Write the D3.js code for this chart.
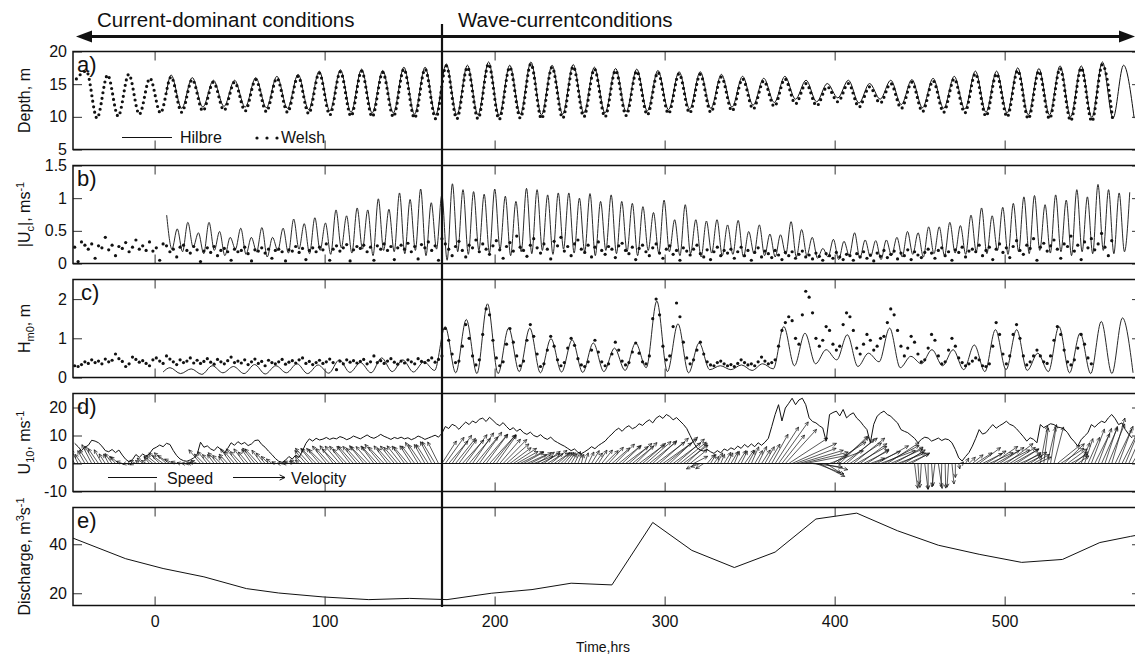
<!DOCTYPE html>
<html>
<head>
<meta charset="utf-8">
<script src="https://cdn.jsdelivr.net/npm/d3@7"></script>
<style>
  body { margin: 0; background: #fff; }
  text { font-family: "Liberation Sans", Arial, Helvetica, sans-serif; fill: #111; }
</style>
</head>
<body>
<div id="chart"></div>
<script>
// ---------- datos ----------
const xTicks = [0, 100, 200, 300, 400, 500];

// a) profundidad: picos y valles de cada marea (periodo semidiurno)
const tideT0 = 9.7, tidePeriod = 12.45;
const hilbreStart = [6.8, 13.5];
const hilbreHigh = [16.4, 16.0, 15.6, 15.6, 16.0, 16.2, 16.5, 17.0, 17.2, 17.3,
  17.1, 17.6, 17.6, 18.1, 17.9, 18.4, 17.9, 18.4, 17.9, 18.0,
  17.6, 17.4, 17.3, 17.1, 16.9, 16.9, 16.5, 16.2, 15.9, 16.2,
  15.6, 15.1, 15.6, 15.1, 15.6, 15.7, 15.9, 16.2, 17.0, 17.0,
  17.5, 17.4, 17.8, 17.8, 18.4, 17.9];
const hilbreLow = [11.3, 11.5, 11.6, 11.5, 11.4, 11.3, 11.1, 10.9, 10.7, 10.6,
  10.6, 10.4, 10.3, 10.3, 10.3, 10.2, 10.4, 10.3, 10.4, 10.6,
  10.6, 10.8, 10.9, 11.1, 11.2, 11.3, 11.5, 11.8, 12.2, 12.7,
  12.3, 12.9, 12.1, 12.7, 11.9, 11.4, 11.3, 11.2, 10.7, 10.6,
  10.3, 10.3, 10.0, 9.9, 9.8, 9.8];
const welshStart = [-46, 15.8];
const welshFirstTide = -4;
const welshHigh = [17.0, 16.4, 16.5, 15.9,
  16.1, 15.7, 15.3, 15.3, 15.7, 15.9, 16.2, 16.7, 16.9, 17.0,
  16.8, 17.3, 17.3, 17.8, 17.6, 18.1, 17.6, 18.1, 17.6, 17.7,
  17.3, 17.1, 17.0, 16.8, 16.6, 16.5, 16.1, 15.8, 15.5, 15.8,
  15.1, 14.6, 15.1, 14.6, 15.1, 15.3, 15.5, 15.8, 16.6, 16.6,
  17.1, 17.0, 17.4, 17.5, 18.0];
const welshLow = [9.8, 10.1, 10.4, 10.6,
  10.7, 10.9, 11.0, 10.9, 10.8, 10.7, 10.5, 10.3, 10.1, 10.0,
  10.0, 9.8, 9.7, 9.7, 9.7, 9.6, 9.8, 9.7, 9.8, 10.0,
  10.0, 10.2, 10.3, 10.5, 10.6, 10.7, 10.9, 11.2, 11.6, 12.0,
  11.7, 12.3, 11.5, 12.1, 11.3, 10.8, 10.7, 10.6, 10.1, 10.0,
  9.7, 9.7, 9.4, 9.3, 9.2];

// b) |Uc|: picos de flujo/reflujo (cada media marea) y valles entre ellos
const currT0 = 7.1, currStep = 6.225;
const currPeak = [0.74, 0.53, 0.63, 0.47, 0.63, 0.49, 0.40, 0.54, 0.40, 0.55, 0.40, 0.54, 0.68, 0.61, 0.70, 0.62, 0.82, 0.73, 0.85, 0.82, 0.99, 0.83,
  1.08, 0.98, 1.14, 0.93, 1.05, 1.22, 1.13, 1.10, 1.06, 1.14, 1.03, 0.95, 1.15, 1.13, 1.05, 1.08, 1.08, 1.00, 1.07, 0.95,
  1.05, 0.95, 0.92, 0.87, 0.78, 0.97, 0.67, 0.90, 0.67, 0.65, 0.67, 0.59, 0.66, 0.49, 0.59, 0.45, 0.44,
  0.64, 0.52, 0.40, 0.23, 0.37, 0.34, 0.47, 0.36, 0.35, 0.36, 0.40, 0.49, 0.47, 0.56, 0.56, 0.63, 0.58, 0.74, 0.85, 0.73,
  0.86, 0.92, 1.02, 1.04, 0.90, 1.05, 0.97, 1.13, 1.02, 1.21, 1.13, 1.08, 1.09];
const currLow = [0.22, 0.18, 0.25, 0.15, 0.20, 0.12, 0.22, 0.14, 0.18, 0.10, 0.20, 0.16, 0.22, 0.15, 0.20, 0.14, 0.24, 0.16, 0.22, 0.12, 0.20, 0.18,
  0.15, 0.20, 0.12, 0.22, 0.05, 0.18, 0.14, 0.20, 0.16, 0.22, 0.12, 0.18, 0.15, 0.20, 0.14, 0.22, 0.16, 0.18, 0.12, 0.20,
  0.15, 0.18, 0.12, 0.20, 0.16, 0.18, 0.12, 0.15, 0.10, 0.16, 0.12, 0.14, 0.10, 0.15, 0.12, 0.10, 0.14,
  0.10, 0.12, 0.08, 0.10, 0.06, 0.12, 0.08, 0.10, 0.06, 0.12, 0.10, 0.14, 0.10, 0.15, 0.12, 0.16, 0.14, 0.18, 0.15, 0.20,
  0.14, 0.18, 0.15, 0.20, 0.16, 0.18, 0.12, 0.18, 0.15, 0.20, 0.15, 0.18];

// series muestreadas cada 2 h desde -47 h
const denseT0 = -47, denseStep = 2;
const welshCurr = [
  0.25, 0.03, 0.33, 0.28, 0.22, 0.30, 0.08, 0.27, 0.24, 0.40, 0.21, 0.28,
  0.12, 0.26, 0.23, 0.32, 0.18, 0.25, 0.36, 0.22, 0.27, 0.20, 0.33, 0.19,
  0.24, 0.05, 0.30, 0.27, 0.18, 0.22, 0.10, 0.25, 0.28, 0.20, 0.16, 0.26,
  0.21, 0.03, 0.19, 0.24, 0.17, 0.26, 0.12, 0.20, 0.23, 0.18, 0.05, 0.22,
  0.18, 0.20, 0.25, 0.15, 0.04, 0.21, 0.19, 0.24, 0.16, 0.22, 0.08, 0.20,
  0.22, 0.18, 0.04, 0.21, 0.19, 0.26, 0.17, 0.23, 0.06, 0.20, 0.24, 0.18,
  0.25, 0.21, 0.30, 0.05, 0.22, 0.27, 0.19, 0.24, 0.29, 0.04, 0.21, 0.26,
  0.23, 0.28, 0.18, 0.25, 0.05, 0.27, 0.22, 0.30, 0.20, 0.26, 0.06, 0.24,
  0.28, 0.22, 0.31, 0.18, 0.26, 0.07, 0.29, 0.24, 0.33, 0.20, 0.27, 0.05,
  0.38, 0.30, 0.22, 0.12, 0.26, 0.34, 0.20, 0.10, 0.28, 0.24, 0.36, 0.18,
  0.30, 0.22, 0.14, 0.27, 0.35, 0.21, 0.08, 0.26, 0.32, 0.19, 0.42, 0.25,
  0.20, 0.11, 0.28, 0.38, 0.24, 0.16, 0.30, 0.22, 0.07, 0.34, 0.27, 0.40,
  0.19, 0.26, 0.12, 0.30, 0.36, 0.22, 0.17, 0.28, 0.10, 0.25, 0.33, 0.20,
  0.14, 0.26, 0.22, 0.09, 0.27, 0.31, 0.20, 0.15, 0.25, 0.06, 0.23, 0.28,
  0.18, 0.12, 0.24, 0.30, 0.16, 0.08, 0.22, 0.27, 0.14, 0.20, 0.05, 0.24,
  0.19, 0.13, 0.22, 0.28, 0.15, 0.10, 0.21, 0.06, 0.18, 0.25, 0.12, 0.20,
  0.16, 0.22, 0.08, 0.18, 0.25, 0.12, 0.20, 0.05, 0.17, 0.24, 0.10, 0.19,
  0.15, 0.09, 0.20, 0.13, 0.06, 0.17, 0.12, 0.18, 0.08, 0.14, 0.19, 0.10,
  0.13, 0.07, 0.16, 0.11, 0.05, 0.15, 0.12, 0.08, 0.17, 0.10, 0.06, 0.14,
  0.12, 0.05, 0.15, 0.10, 0.18, 0.08, 0.13, 0.04, 0.16, 0.11, 0.20, 0.09,
  0.14, 0.19, 0.07, 0.16, 0.12, 0.21, 0.06, 0.18, 0.13, 0.09, 0.17, 0.22,
  0.16, 0.08, 0.20, 0.24, 0.12, 0.18, 0.05, 0.21, 0.17, 0.25, 0.10, 0.19,
  0.22, 0.18, 0.28, 0.12, 0.20, 0.25, 0.06, 0.22, 0.30, 0.17, 0.24, 0.09,
  0.26, 0.35, 0.20, 0.14, 0.28, 0.23, 0.38, 0.05, 0.25, 0.31, 0.19, 0.27,
  0.36, 0.22, 0.08, 0.30, 0.26, 0.42, 0.19, 0.28, 0.06, 0.33, 0.24, 0.38,
  0.21, 0.30, 0.46, 0.25, 0.12, 0.35];

// c) Hm0: linea Hilbre (pico y valle por marea) y puntos Welsh cada 2 h
const waveT0 = 170.9, waveFirstTide = -13;
const hilbreWaveStart = [5, 0.14];
const hilbreWavePeak = [0.25, 0.22, 0.30, 0.28, 0.33, 0.30, 0.35, 0.32, 0.45, 0.38, 0.50, 0.45, 0.40,
  1.30, 1.48, 1.88, 1.26, 1.26, 0.99, 0.96, 0.88, 0.75, 0.88, 1.95, 1.37, 0.88,
  0.30, 0.32, 0.35,
  1.30, 1.13, 0.71, 1.09, 0.62, 1.26, 0.54, 0.71, 0.71, 0.83, 1.22, 1.22, 0.62, 1.30, 1.13, 1.43, 1.52];
const hilbreWaveLow = [0.10, 0.08, 0.12, 0.10, 0.09, 0.12, 0.10, 0.11, 0.13, 0.12, 0.15, 0.14, 0.18,
  0.12, 0.10, 0.10, 0.15, 0.12, 0.14, 0.13, 0.15, 0.18, 0.25, 0.15, 0.12, 0.20,
  0.20, 0.18, 0.22,
  0.30, 0.35, 0.45, 0.28, 0.40, 0.25, 0.35, 0.30, 0.20, 0.15, 0.20, 0.18, 0.15, 0.12, 0.10, 0.10, 0.12];
const welshWave = [
  0.30, 0.28, 0.33, 0.40, 0.36, 0.45, 0.38, 0.42, 0.35, 0.47, 0.40, 0.44,
  0.60, 0.48, 0.41, 0.28, 0.35, 0.52, 0.46, 0.39, 0.43, 0.36, 0.30, 0.45,
  0.50, 0.42, 0.36, 0.55, 0.47, 0.40, 0.33, 0.45, 0.38, 0.42, 0.50, 0.37,
  0.44, 0.36, 0.41, 0.48, 0.39, 0.34, 0.46, 0.40, 0.35, 0.43, 0.52, 0.38,
  0.42, 0.37, 0.45, 0.33, 0.40, 0.47, 0.36, 0.41, 0.30, 0.44, 0.38, 0.35,
  0.40, 0.46, 0.34, 0.39, 0.43, 0.37, 0.45, 0.50, 0.36, 0.41, 0.33, 0.38,
  0.44, 0.36, 0.40, 0.47, 0.38, 0.20, 0.42, 0.35, 0.45, 0.39, 0.43, 0.37,
  0.41, 0.46, 0.35, 0.40, 0.55, 0.38, 0.43, 0.36, 0.42, 0.48, 0.39, 0.34,
  0.42, 0.37, 0.45, 0.40, 0.35, 0.48, 0.41, 0.38, 0.44, 0.50, 0.39, 0.46,
  0.55,
  1.25, 0.95, 0.60, 0.38, 0.42, 0.80,
  1.35, 1.00, 0.55, 0.32, 0.45, 1.10,
  1.75, 1.60, 0.95, 0.50, 0.30, 0.40, 0.85,
  1.25, 0.90, 0.55, 0.30, 0.42, 0.95,
  1.35, 1.05, 0.60, 0.28, 0.35, 0.70,
  1.05, 0.80, 0.45, 0.30, 0.38, 0.75,
  1.00, 0.82, 0.48, 0.32, 0.28, 0.40, 0.70,
  0.95, 0.65, 0.40, 0.30, 0.35, 0.60,
  0.90, 0.70, 0.42, 0.32, 0.38, 0.65,
  0.88, 0.62, 0.40, 0.35, 0.55, 1.50,
  2.00, 1.60, 0.80, 0.45, 0.55, 1.30,
  1.90, 1.55, 0.90, 0.50, 0.35, 0.45, 0.70,
  0.90, 0.60, 0.40, 0.32, 0.30, 0.38,
  0.42, 0.35, 0.30, 0.33, 0.28, 0.36,
  0.45, 0.38, 0.32, 0.35, 0.30, 0.40,
  0.52, 0.42, 0.35, 0.38, 0.45, 0.80, 1.20,
  1.40, 1.55, 1.45, 1.00, 0.85, 1.60,
  2.20, 2.05, 1.65, 1.00, 0.80, 0.95,
  1.30, 1.20, 0.85, 0.70, 0.80, 1.35,
  1.65, 1.55, 1.20, 0.75, 0.60, 0.85,
  1.10, 0.95, 0.70, 0.80, 1.00, 1.05, 1.40,
  1.75, 1.60, 1.20, 0.80, 0.55, 0.75,
  1.05, 0.90, 0.60, 0.40, 0.45, 0.75,
  1.10, 0.95, 0.55, 0.35, 0.40, 0.70,
  1.00, 0.80, 0.50, 0.38, 0.30, 0.35, 0.42,
  0.50, 0.45, 0.30, 0.28, 0.35, 0.80,
  1.40, 1.10, 0.60, 0.35, 0.55, 1.10,
  1.35, 1.00, 0.55, 0.32, 0.40, 0.55,
  0.70, 0.55, 0.40, 0.36, 0.55, 0.95,
  1.30, 1.10, 0.70, 0.40, 0.32, 0.45, 0.75,
  1.10, 0.85, 0.50, 0.35];

// d) viento: rapidez (m/s) y direccion del vector (grados, antihorario desde el este)
const windSpeed = [
  7.2, 6.0, 4.6, 5.8, 6.5, 8.3, 8.0, 7.4, 6.2, 4.6, 4.2, 5.0,
  3.9, 4.8, 3.0, 1.5, 0.6, 1.4, 3.2, 2.2, 3.4, 2.6, 3.5, 5.2,
  5.8, 6.6, 6.0, 7.2, 6.8, 4.6, 2.8, 1.6, 1.0, 0.8, 1.3, 2.0,
  3.2, 7.6, 5.8, 6.3, 5.2, 4.6, 6.0, 5.0, 3.8, 5.4, 7.4, 6.5,
  7.8, 6.9, 7.5, 6.4, 7.0, 8.2, 8.4, 6.8, 5.8, 4.4, 3.2, 1.8,
  0.8, 0.4, 1.2, 2.5, 1.6, 3.0, 2.2, 4.5, 7.2, 8.8, 8.0, 9.0,
  8.4, 8.7, 9.3, 8.6, 9.1, 8.8, 9.6, 9.2, 8.5, 9.0, 9.8, 9.3,
  8.8, 9.5, 10.2, 9.4, 9.0, 9.6, 10.4, 9.7, 9.2, 8.6, 9.3, 8.9,
  9.4, 8.8, 9.2, 8.5, 9.0, 9.8, 9.3, 8.6, 9.1, 9.6, 10.1, 9.4,
  10.8, 13.2, 12.5, 14.0, 13.4, 12.2, 13.6, 14.8, 13.9, 15.2, 14.5, 15.8,
  16.2, 15.0, 16.5, 15.4, 14.2, 13.5, 14.6, 13.2, 12.0, 12.8, 11.5, 12.3,
  11.0, 10.4, 11.2, 10.0, 9.5, 10.3, 9.2, 8.6, 9.4, 8.2, 7.5, 6.8,
  6.2, 5.4, 4.6, 5.2, 4.0, 3.5, 4.2, 5.0, 6.0, 5.3, 6.4, 7.2,
  8.0, 9.4, 10.5, 11.8, 12.6, 11.5, 12.8, 13.5, 12.4, 13.0, 14.2, 13.6,
  14.8, 15.6, 14.5, 16.2, 17.0, 16.1, 17.5, 16.8, 15.6, 16.4, 15.2, 14.0,
  12.5, 10.0, 7.5, 5.6, 4.8, 4.4, 5.0, 4.2, 3.6, 4.6, 3.8, 5.2,
  4.6, 5.6, 5.0, 6.2, 5.4, 6.8, 5.8, 7.0, 6.0, 7.4, 6.5, 7.6,
  9.0, 13.2, 17.5, 21.0, 15.2, 19.8, 21.5, 23.3, 21.0, 22.7, 23.3, 21.0,
  16.3, 15.0, 14.5, 13.5, 12.7, 8.0, 17.5, 18.2, 18.7, 17.0, 19.3, 16.3,
  17.4, 18.1, 16.2, 15.1, 13.5, 12.1, 7.4, 14.0, 16.9, 18.0, 18.7, 17.5,
  16.9, 15.6, 14.5, 12.1, 11.5, 11.0, 10.0, 9.0, 7.4, 8.6, 9.4, 9.1,
  8.0, 8.5, 9.1, 8.2, 8.8, 8.5, 7.4, 5.0, 2.0, 0.9, 2.5, 3.9,
  6.2, 9.0, 12.1, 10.5, 11.0, 12.5, 13.9, 12.6, 13.5, 14.2, 15.1, 14.0,
  13.5, 12.4, 11.0, 9.6, 8.0, 9.2, 8.6, 7.4, 13.9, 12.8, 13.5, 14.2,
  13.9, 13.0, 12.8, 12.3, 11.0, 9.1, 7.8, 6.2, 8.5, 9.8, 11.0, 13.9,
  13.0, 14.2, 15.1, 14.6, 16.3, 17.5, 16.0, 13.9, 14.5, 12.1, 10.4, 9.1];
const windDir = [
  130, 125, 135, 128, 132, 126, 130, 134, 128, 132, 127, 135,
  140, 150, 165, 190, 220, 200, 160, 150, 145, 155, 140, 150,
  150, 145, 152, 148, 155, 160, 165, 170, 175, 185, 170, 165,
  160, 140, 145, 138, 142, 136, 140, 145, 138, 142, 135, 140,
  138, 142, 136, 140, 134, 138, 142, 136, 140, 145, 150, 160,
  175, 190, 170, 160, 150, 155, 148, 145, 140, 142, 138, 144,
  140, 145, 138, 142, 136, 144, 140, 138, 143, 137, 141, 139,
  142, 138, 144, 140, 136, 142, 139, 143, 137, 141, 138, 140,
  138, 135, 140, 132, 136, 130, 134, 128, 132, 126, 130, 125,
  48, 45, 40, 46, 42, 44, 38, 44, 40, 46, 41, 45,
  40, 44, 38, 42, 45, 40, 36, 32, 28, 25, 22, 20,
  22, 18, 20, 15, 25, 20, 28, 24, 30, 26, 32, 35,
  40, 45, 50, 55, 60, 70, 65, 55, 50, 45, 48, 42,
  35, 38, 32, 36, 30, 34, 28, 32, 30, 35, 28, 32,
  32, 30, 34, 28, 32, 27, 30, 34, 28, 32, 30, 28,
  35, 30, 20, 200, 195, 205, 40, 50, 45, 55, 60, 50,
  55, 50, 60, 48, 55, 45, 52, 58, 50, 55, 48, 52,
  50, 52, 48, 45, 42, 38, 25, 18, 15, 12, 10, 8,
  0, -5, -15, -20, -10, -25, 15, 25, 30, 35, 28, 32,
  25, 30, 22, 28, 20, 25, 15, 18, 22, 15, 20, 25,
  18, 22, 15, 20, 25, 18, 22, -80, -85, -95, -80, -90,
  -85, -100, -78, -92, -88, -95, -82, -90, -75, 40, 50, 35,
  30, 25, 28, 20, 24, 18, 26, 22, 25, 20, 28, 24,
  22, 25, 18, 24, 20, 26, 22, 18, 75, 80, 72, 78,
  70, 30, 25, 35, 28, 22, 32, 26, 60, 65, 58, 62,
  55, 62, 58, 65, 60, 68, 56, 62, 55, 60, 58, 50];

// e) caudal diario
const dischargeHours = [-48, -17, 5, 29, 54, 73, 99, 126, 150, 172, 198, 222, 245, 269, 293, 316, 341, 365, 389, 413, 437, 461, 485, 510, 534, 556, 574, 580];
const dischargeValues = [42.5, 34.1, 30.1, 26.7, 21.9, 20.1, 18.5, 17.4, 17.9, 17.4, 20.0, 21.5, 24.1, 23.4, 48.9, 37.5, 30.5, 36.8, 50.3, 52.7, 45.5, 39.6, 35.9, 32.6, 33.8, 40.7, 43.2, 44.0];

// ---------- dimensiones ----------
const ancho = 1135, alto = 659;
const izq = 73, der = 1141;
const panelTop = [51.5, 165.5, 279.5, 393.5, 507.5];
const panelAlto = 98;
const ink = "#111";

const svg = d3.select("#chart").append("svg")
  .attr("width", ancho)
  .attr("height", alto);
svg.append("rect").attr("width", ancho).attr("height", alto).attr("fill", "#fff");

const x = d3.scaleLinear().domain([-48, 580.2]).range([izq, der]);
const yEscala = (i, dom) => d3.scaleLinear().domain(dom).range([panelTop[i] + panelAlto, panelTop[i]]);
const yA = yEscala(0, [5, 20]);
const yB = yEscala(1, [0, 1.5]);
const yC = yEscala(2, [0, 2.5]);
const yD = yEscala(3, [-10, 25]);
const yE = yEscala(4, [15, 55]);

const defs = svg.append("defs");
panelTop.forEach((t, i) => {
  defs.append("clipPath").attr("id", "clip" + i)
    .append("rect").attr("x", izq).attr("y", t).attr("width", der - izq).attr("height", panelAlto);
});

// ---------- construir series ----------
function mareas(t0, paso, k0, altos, bajos, inicio) {
  const pts = inicio ? [inicio] : [];
  altos.forEach((h, i) => {
    const t = t0 + (k0 + i) * paso;
    pts.push([t, h]);
    if (bajos[i] != null) pts.push([t + paso / 2, bajos[i]]);
  });
  return pts;
}
const hilbrePts = mareas(tideT0, tidePeriod, 0, hilbreHigh, hilbreLow, hilbreStart);
const welshPts = mareas(tideT0, tidePeriod, welshFirstTide, welshHigh, welshLow, welshStart);
const currPts = mareas(currT0, currStep, 0, currPeak, currLow, null);
const wavePts = mareas(waveT0, tidePeriod, waveFirstTide, hilbreWavePeak, hilbreWaveLow, hilbreWaveStart);
const denso = arr => arr.map((v, i) => [denseT0 + i * denseStep, v]);

// ---------- a) ----------
const gA = svg.append("g").attr("clip-path", "url(#clip0)");
const lineaA = d3.line().x(d => x(d[0])).y(d => yA(d[1])).curve(d3.curveMonotoneX);
gA.append("path").attr("d", lineaA(welshPts))
  .attr("fill", "none").attr("stroke", ink).attr("stroke-width", 3.2)
  .attr("stroke-linecap", "round").attr("stroke-dasharray", "0 5.5");
gA.append("path").attr("d", lineaA(hilbrePts))
  .attr("fill", "none").attr("stroke", ink).attr("stroke-width", 1);

// ---------- b) ----------
const gB = svg.append("g").attr("clip-path", "url(#clip1)");
gB.append("path")
  .attr("d", d3.line().x(d => x(d[0])).y(d => yB(d[1])).curve(d3.curveMonotoneX)(currPts))
  .attr("fill", "none").attr("stroke", ink).attr("stroke-width", 0.9);
gB.selectAll("circle").data(denso(welshCurr)).enter().append("circle")
  .attr("cx", d => x(d[0])).attr("cy", d => yB(d[1])).attr("r", 1.6).attr("fill", ink);

// ---------- c) ----------
const gC = svg.append("g").attr("clip-path", "url(#clip2)");
gC.append("path")
  .attr("d", d3.line().x(d => x(d[0])).y(d => yC(d[1])).curve(d3.curveMonotoneX)(wavePts))
  .attr("fill", "none").attr("stroke", ink).attr("stroke-width", 0.9);
gC.selectAll("circle").data(denso(welshWave)).enter().append("circle")
  .attr("cx", d => x(d[0])).attr("cy", d => yC(d[1])).attr("r", 1.6).attr("fill", ink);

// ---------- d) ----------
const gD = svg.append("g").attr("clip-path", "url(#clip3)");
const kx = 2.0; // px horizontales por m/s en las flechas
gD.append("line").attr("x1", izq).attr("x2", der).attr("y1", yD(0)).attr("y2", yD(0))
  .attr("stroke", ink).attr("stroke-width", 1);
const flechas = windSpeed.map((s, i) => {
  const th = windDir[i] * Math.PI / 180;
  const t = denseT0 + i * denseStep;
  return { x0: x(t), y0: yD(0), x1: x(t) + s * Math.cos(th) * kx, y1: yD(s * Math.sin(th)) };
});
function punta(f, largo) {
  const a = Math.atan2(f.y1 - f.y0, f.x1 - f.x0);
  const p = ang => [f.x1 - largo * Math.cos(a + ang), f.y1 - largo * Math.sin(a + ang)];
  const p1 = p(0.45), p2 = p(-0.45);
  return `M${p1[0]},${p1[1]}L${f.x1},${f.y1}L${p2[0]},${p2[1]}`;
}
gD.selectAll(".vec").data(flechas).enter().append("path").attr("class", "vec")
  .attr("d", f => `M${f.x0},${f.y0}L${f.x1},${f.y1}` + punta(f, 4))
  .attr("fill", "none").attr("stroke", ink).attr("stroke-width", 0.7);
gD.append("path")
  .attr("d", d3.line().x(d => x(d[0])).y(d => yD(d[1]))(denso(windSpeed)))
  .attr("fill", "none").attr("stroke", ink).attr("stroke-width", 1);

// ---------- e) ----------
const gE = svg.append("g").attr("clip-path", "url(#clip4)");
gE.append("path")
  .attr("d", d3.line().x((d, i) => x(dischargeHours[i])).y(d => yE(d))(dischargeValues))
  .attr("fill", "none").attr("stroke", ink).attr("stroke-width", 1);

// ---------- ejes ----------
const fmt = d => String(d);
function marco(i, y, ticks, conX) {
  const top = panelTop[i], bot = top + panelAlto;
  const g = svg.append("g");
  g.append("g").attr("transform", `translate(${izq},0)`)
    .call(d3.axisLeft(y).tickValues(ticks).tickFormat(fmt).tickSizeInner(-9).tickSizeOuter(0).tickPadding(6));
  g.append("g").attr("transform", `translate(${der},0)`)
    .call(d3.axisRight(y).tickValues(ticks).tickFormat("").tickSizeInner(-9).tickSizeOuter(0));
  g.append("g").attr("transform", `translate(0,${top})`)
    .call(d3.axisTop(x).tickValues(xTicks).tickFormat("").tickSizeInner(-9).tickSizeOuter(0));
  g.append("g").attr("transform", `translate(0,${bot})`)
    .call(d3.axisBottom(x).tickValues(xTicks).tickFormat(conX ? fmt : "").tickSizeInner(-9).tickSizeOuter(0).tickPadding(10));
  g.selectAll(".domain").remove();
  g.selectAll(".tick line").attr("stroke", "#333").attr("stroke-width", 1);
  g.selectAll("g").attr("font-family", null).attr("font-size", 16);
  g.selectAll(".tick text").attr("fill", ink);
  g.append("rect").attr("x", izq).attr("y", top).attr("width", der - izq).attr("height", panelAlto)
    .attr("fill", "none").attr("stroke", ink).attr("stroke-width", 1.5);
}
marco(0, yA, [5, 10, 15, 20], false);
marco(1, yB, [0, 0.5, 1, 1.5], false);
marco(2, yC, [0, 1, 2], false);
marco(3, yD, [-10, 0, 10, 20], false);
marco(4, yE, [20, 40], true);

// etiquetas de panel
["a)", "b)", "c)", "d)", "e)"].forEach((s, i) => {
  svg.append("text").attr("x", i === 2 ? 81 : 77).attr("y", panelTop[i] + 20.5)
    .attr("font-size", 22).text(s);
});

// titulos de eje Y (rotados)
function tituloY(i, partes) {
  const cy = panelTop[i] + panelAlto / 2;
  const t = svg.append("text").attr("transform", `translate(30,${cy}) rotate(-90)`)
    .attr("text-anchor", "middle").attr("font-size", 16);
  partes.forEach(p => {
    const ts = t.append("tspan").text(p[0]);
    if (p[1]) ts.attr("dy", p[1]);
    if (p[2]) ts.attr("font-size", p[2]);
  });
}
tituloY(0, [["Depth, m"]]);
tituloY(1, [["|U"], ["c", 4, 11], ["|, ms", -4], ["-1", -6, 11]]);
tituloY(2, [["H"], ["m0", 4, 11], [", m", -4]]);
tituloY(3, [["U"], ["10", 4, 11], [", ms", -4], ["-1", -6, 11]]);
tituloY(4, [["Discharge, m"], ["3", -6, 11], ["s", 6], ["-1", -6, 11]]);

svg.append("text").attr("x", 603).attr("y", 652).attr("text-anchor", "middle")
  .attr("font-size", 14).text("Time,hrs");

// leyendas
svg.append("line").attr("x1", 122).attr("x2", 172).attr("y1", 137.5).attr("y2", 137.5)
  .attr("stroke", ink).attr("stroke-width", 1);
svg.append("text").attr("x", 180).attr("y", 143).attr("font-size", 16).text("Hilbre");
[257, 267, 277].forEach(cx => svg.append("circle").attr("cx", cx).attr("cy", 138).attr("r", 1.6).attr("fill", ink));
svg.append("text").attr("x", 281).attr("y", 143).attr("font-size", 16).text("Welsh");

svg.append("line").attr("x1", 108).attr("x2", 157).attr("y1", 477.5).attr("y2", 477.5)
  .attr("stroke", ink).attr("stroke-width", 1);
svg.append("text").attr("x", 167).attr("y", 483.5).attr("font-size", 16).text("Speed");
svg.append("path").attr("d", "M233,477.5L285,477.5" + punta({ x0: 233, y0: 477.5, x1: 285, y1: 477.5 }, 6))
  .attr("fill", "none").attr("stroke", ink).attr("stroke-width", 1);
svg.append("text").attr("x", 291).attr("y", 483.5).attr("font-size", 16).text("Velocity");

// cabecera: flecha doble y linea vertical
svg.append("line").attr("x1", 86).attr("x2", 1126).attr("y1", 36.5).attr("y2", 36.5)
  .attr("stroke", ink).attr("stroke-width", 3);
svg.append("path").attr("d", "M76,36.5L92,30.5L92,42.5Z").attr("fill", ink);
svg.append("path").attr("d", "M1135,36.5L1119,30.5L1119,42.5Z").attr("fill", ink);
svg.append("line").attr("x1", 442).attr("x2", 442).attr("y1", 24).attr("y2", 607)
  .attr("stroke", ink).attr("stroke-width", 2.2);
svg.append("text").attr("x", 97).attr("y", 27).attr("font-size", 20.5).text("Current-dominant conditions");
svg.append("text").attr("x", 458).attr("y", 26.5).attr("font-size", 20.5).text("Wave-currentconditions");
</script>
</body>
</html>
